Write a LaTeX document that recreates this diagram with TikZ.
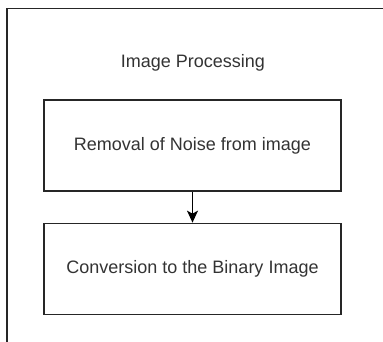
\documentclass[tikz,border=0pt]{standalone}
\usepackage{fontspec}
\setmainfont{Liberation Sans}
\usetikzlibrary{arrows.meta,positioning}
\tikzset{
    stepbox/.style={draw=black!85, line width=1.3pt, minimum width=297pt, minimum height=91pt, inner sep=0pt},
    flowarrow/.style={line width=1.3pt, -{Stealth[width=11pt,length=12pt,inset=3pt]}}
}
\begin{document}
\begin{tikzpicture}[x=1pt, y=-1pt, font=\fontsize{18}{22}\selectfont, text=black!80]
            \useasboundingbox (0,0) rectangle (383,341);

            % Внешняя рамка
            \draw [line width=1.6pt, black!85] (7,8.5) rectangle (420,380);

            % Заголовок
            \node (title) at (193,63) {Image Processing};

            % Блоки
            \node [stepbox] (noise) at (192.5,145.5) {Removal of Noise from image};
            \node [stepbox, below=31pt of noise] (binary) {Conversion to the Binary Image};

            % Стрелка
            \draw [flowarrow] (noise) -- (binary);
        \end{tikzpicture}
\end{document}
